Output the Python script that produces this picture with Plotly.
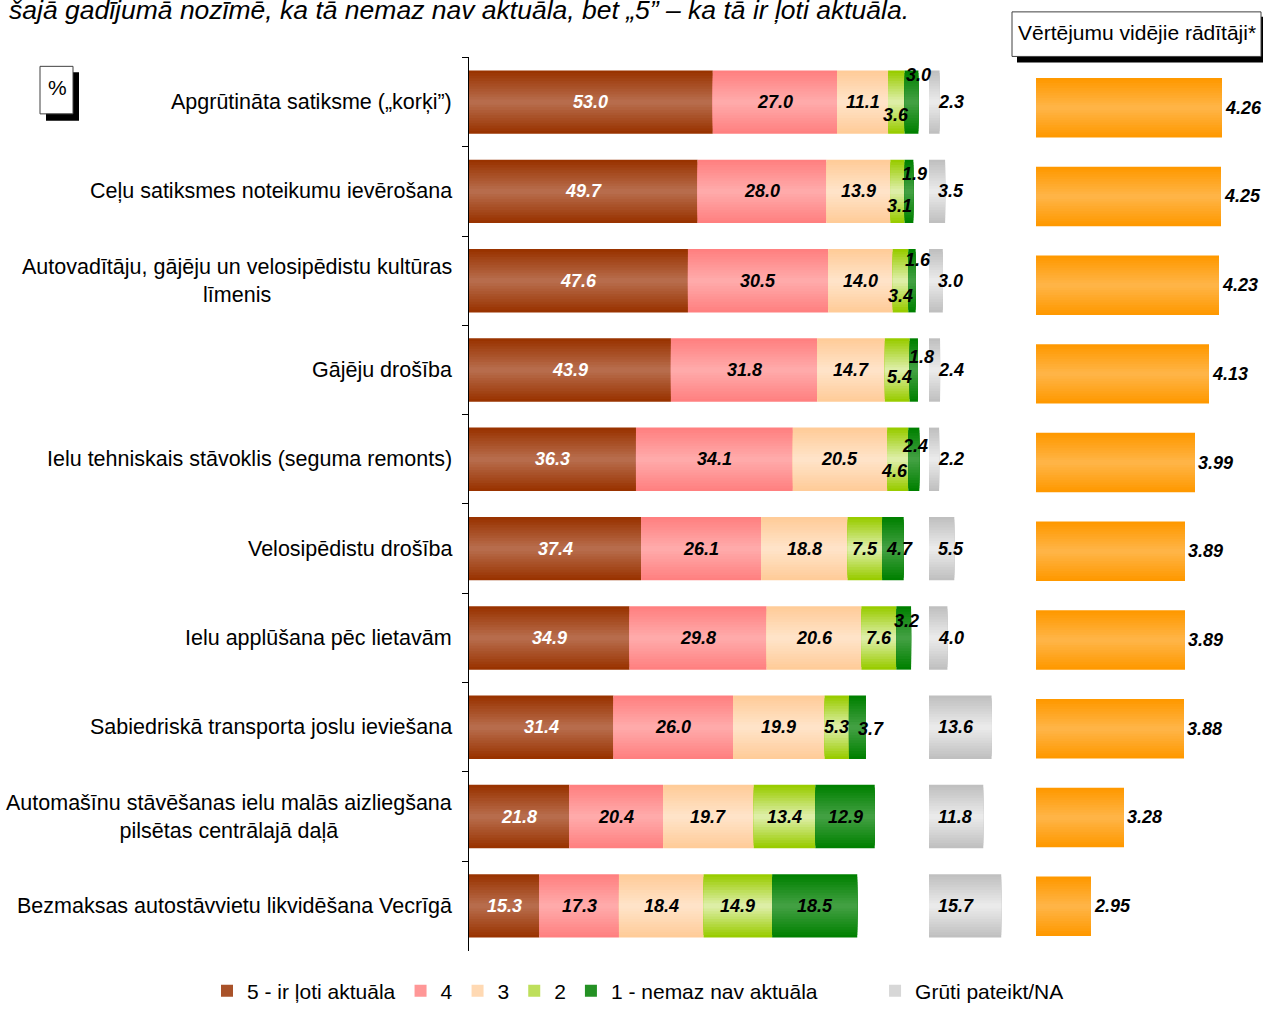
import numpy as np
import plotly.graph_objects as go

W, H = 1263, 1012
HY = 1012  # vertical reference scale used for paper fractions

categories = [
    "Apgrūtināta satiksme („korķi”)",
    "Ceļu satiksmes noteikumu ievērošana",
    "Autovadītāju, gājēju un velosipēdistu kultūras<br>līmenis",
    "Gājēju drošība",
    "Ielu tehniskais stāvoklis (seguma remonts)",
    "Velosipēdistu drošība",
    "Ielu applūšana pēc lietavām",
    "Sabiedriskā transporta joslu ieviešana",
    "Automašīnu stāvēšanas ielu malās aizliegšana<br>pilsētas centrālajā daļā",
    "Bezmaksas autostāvvietu likvidēšana Vecrīgā",
]

s5 = [53.0, 49.7, 47.6, 43.9, 36.3, 37.4, 34.9, 31.4, 21.8, 15.3]
s4 = [27.0, 28.0, 30.5, 31.8, 34.1, 26.1, 29.8, 26.0, 20.4, 17.3]
s3 = [11.1, 13.9, 14.0, 14.7, 20.5, 18.8, 20.6, 19.9, 19.7, 18.4]
s2 = [3.6, 3.1, 3.4, 5.4, 4.6, 7.5, 7.6, 5.3, 13.4, 14.9]
s1 = [3.0, 1.9, 1.6, 1.8, 2.4, 4.7, 3.2, 3.7, 12.9, 18.5]
na = [2.3, 3.5, 3.0, 2.4, 2.2, 5.5, 4.0, 13.6, 11.8, 15.7]
means = [4.26, 4.25, 4.23, 4.13, 3.99, 3.89, 3.89, 3.88, 3.28, 2.95]

names = ["5 - ir ļoti aktuāla", "4", "3", "2", "1 - nemaz nav aktuāla", "Grūti pateikt/NA"]
title_text = "šajā gadījumā nozīmē, ka tā nemaz nav aktuāla, bet „5” – ka tā ir ļoti aktuāla."
means_title = "Vērtējumu vidējie rādītāji*"

# ---------------- styling ----------------
FONT = "Liberation Sans, Arial, sans-serif"
NA_START = 100  # gray bar starts after the 100% stack
N = 12          # layers used to imitate vertical gradient
BW = 0.71
BW2 = 0.67
LBL = 18

colours = [  # (edge, middle)
    ((153, 51, 0), (183, 108, 76)),
    ((255, 128, 128), (255, 170, 170)),
    ((255, 204, 153), (255, 227, 200)),
    ((153, 204, 0), (221, 238, 166)),
    ((0, 128, 0), (66, 160, 66)),
    ((192, 192, 192), (234, 234, 234)),
]
orange = ((255, 153, 0), (255, 180, 70))

# label nudges (row, series index) -> (xshift, yshift) px
nudges = {
    (0, 3): (0, -13), (0, 4): (7, 27),
    (1, 3): (2, -15), (1, 4): (6, 17),
    (2, 3): (0, -15), (2, 4): (6, 21),
    (3, 3): (2, -7), (3, 4): (8, 13),
    (4, 3): (-3, -12), (4, 4): (1, 13),
    (5, 4): (7, 0),
    (6, 4): (3, 17),
    (7, 4): (14, -2),
}


def blend(c1, c2, t):
    return "rgb(%d,%d,%d)" % tuple(round(a + (b - a) * t) for a, b in zip(c1, c2))


def py(y):  # pixel from top -> paper fraction
    return 1 - y / HY


fig = go.Figure()

stack = [s5, s4, s3, s2, s1]
arr = np.array(stack)
bases = np.vstack([np.zeros(len(categories)), np.cumsum(arr, axis=0)[:-1]])

all_series = [(names[i], stack[i], bases[i]) for i in range(5)]
all_series.append((names[5], na, np.full(len(categories), NA_START)))

for i, (nm, vals, base) in enumerate(all_series):
    edge, mid = colours[i]
    for k in range(N):
        fig.add_trace(go.Bar(
            x=vals, y=categories, base=base, orientation="h",
            width=BW * (1 - k / N),
            marker=dict(color=blend(edge, mid, k / (N - 1)), line=dict(width=0)),
            name=(nm + "\u00a0" * 9) if i == 4 else nm,
            legendgroup=nm, showlegend=(k == N // 2), legendrank=i,
            hoverinfo="skip", xaxis="x", yaxis="y",
        ))

for k in range(N):
    fig.add_trace(go.Bar(
        x=means, y=categories, orientation="h",
        width=BW2 * (1 - k / N),
        marker=dict(color=blend(orange[0], orange[1], k / (N - 1)), line=dict(width=0)),
        text=[f"{m:.2f}" for m in means] if k == 0 else None,
        textposition="outside" if k == 0 else "none",
        textfont=dict(family=FONT, size=LBL, color="black", weight="bold", style="italic"),
        constraintext="none",
        cliponaxis=False, showlegend=False, hoverinfo="skip",
        xaxis="x2", yaxis="y2",
    ))

annotations = []
# segment labels
for i in range(5):
    vals = stack[i]
    for r, v in enumerate(vals):
        dx, dy = nudges.get((r, i), (0, 0))
        annotations.append(dict(
            x=bases[i][r] + v / 2, y=categories[r], xref="x", yref="y",
            text=f"{v:.1f}", showarrow=False, xshift=dx, yshift=dy,
            font=dict(family=FONT, size=LBL, color="white" if i == 0 else "black",
                      weight="bold", style="italic"),
        ))
# NA labels
for r, v in enumerate(na):
    annotations.append(dict(
        x=NA_START, y=categories[r], xref="x", yref="y", xanchor="left", xshift=7,
        text=f"{v:.1f}", showarrow=False,
        font=dict(family=FONT, size=LBL, color="black", weight="bold", style="italic"),
    ))
# category labels
for r, c in enumerate(categories):
    annotations.append(dict(
        x=454 / W, y=c, xref="paper", yref="y", xanchor="right", align="center",
        text=c, showarrow=False, font=dict(family=FONT, size=21.5, color="black"),
    ))
# title (cut at top)
annotations.append(dict(
    x=7 / W, y=py(10), xref="paper", yref="paper", xanchor="left", yanchor="middle",
    text=title_text, showarrow=False,
    font=dict(family=FONT, size=26.5, color="black", style="italic"),
))
annotations.append(dict(
    x=1137 / W, y=py(33), xref="paper", yref="paper", xanchor="center", yanchor="middle",
    text=means_title, showarrow=False, font=dict(family=FONT, size=21, color="black"),
))
annotations.append(dict(
    x=57 / W, y=py(88), xref="paper", yref="paper", xanchor="center", yanchor="middle",
    text="%", showarrow=False, font=dict(family=FONT, size=21, color="black"),
))


def rect(x0, y0, x1, y1, fill, line=None):
    return dict(type="rect", xref="paper", yref="paper",
                x0=x0 / W, x1=x1 / W, y0=py(y1), y1=py(y0),
                fillcolor=fill, line=dict(width=1 if line else 0, color=line or fill),
                layer="above")


shapes = [
    rect(1017, 17, 1266, 63, "black"),
    rect(1012, 12, 1261, 57, "white", "#404040"),
    rect(46, 73, 79, 122, "black"),
    rect(40, 67, 73, 115, "white", "#404040"),
]

fig.update_layout(
    width=W, height=H, margin=dict(l=0, r=0, t=0, b=0),
    paper_bgcolor="white", plot_bgcolor="white",
    barmode="overlay",
    font=dict(family=FONT, size=21, color="black"),
    xaxis=dict(domain=[469 / W, 1021 / W], range=[0, 120], visible=False, fixedrange=True),
    yaxis=dict(domain=[py(960), py(58)], type="category", categoryorder="array",
               categoryarray=categories, range=[9.5, -0.5], showline=True, linecolor="black",
               linewidth=1, ticks="outside", tickson="boundaries", ticklen=6, tickcolor="black",
               showticklabels=False, showgrid=False, zeroline=False, fixedrange=True),
    xaxis2=dict(domain=[1036 / W, 1], range=[2.4, 4.67], visible=False, anchor="y2",
                fixedrange=True),
    yaxis2=dict(domain=[py(960), py(64)], type="category", categoryorder="array",
                categoryarray=categories, range=[9.5, -0.5], visible=False, anchor="x2",
                fixedrange=True),
    legend=dict(orientation="h", x=207 / W, y=py(1001), xanchor="left", yanchor="middle",
                font=dict(family=FONT, size=21, color="black"), bgcolor="rgba(0,0,0,0)",
                traceorder="normal"),
    annotations=annotations, shapes=shapes,
)

fig.write_html(
    "out.html",
    config={"responsive": False, "displayModeBar": False},
    post_script="document.body.style.margin='0';document.body.style.padding='0';"
                "document.body.style.overflow='hidden';",
)
